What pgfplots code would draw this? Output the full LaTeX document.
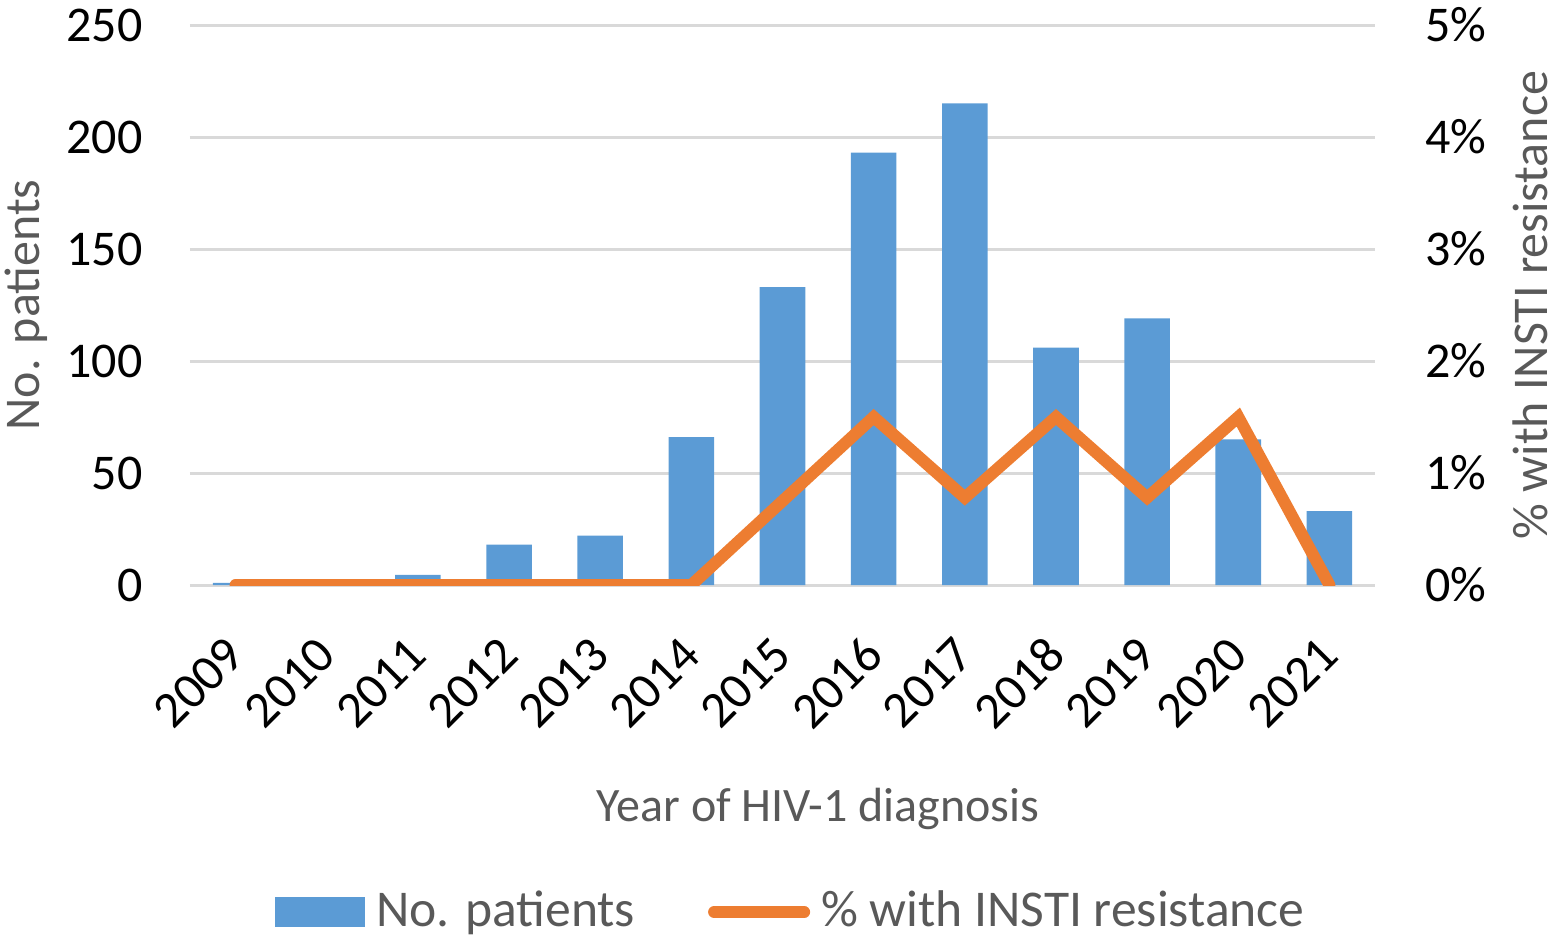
\documentclass[border=0pt]{standalone}
\usepackage{pgfplots}
\pgfplotsset{compat=1.18}
\usepackage{fontspec}
\setmainfont{Carlito}
\definecolor{barblue}{HTML}{5B9BD5}
\definecolor{lineorange}{HTML}{ED7D31}
\definecolor{gridgray}{HTML}{D9D9D9}
\definecolor{titlegray}{HTML}{595959}
\begin{document}
\fontsize{25}{30}\selectfont
\begin{tikzpicture}
\pgfplotsset{
  every axis/.append style={
    scale only axis, width=592.5pt, height=280pt,
    xmin=-0.5, xmax=12.5, enlargelimits=false,
    /pgf/number format/assume math mode=true,
    tick style={draw=none},
    font=\fontsize{25}{30}\selectfont,
  }
}
\begin{axis}[
  axis line style={draw=none},
  ymin=0, ymax=250, ytick={0,50,...,250},
  ymajorgrids, grid style={gridgray, line width=1.5pt},
  xtick={0,...,12},
  xticklabels={2009,2010,2011,2012,2013,2014,2015,2016,2017,2018,2019,2020,2021},
  xticklabel style={rotate=45, anchor=east, inner sep=0pt, font=\fontsize{25.5}{30}\selectfont},
  xticklabel shift=30.5pt,
  yticklabel style={anchor=east, inner sep=0pt},
  yticklabel shift=23.5pt,
  ylabel={No. patients},
  ylabel style={at={(axis description cs:-0.1561,0.5)}, anchor=north, inner sep=0pt, text=titlegray},
  xlabel={Year of HIV-1 diagnosis},
  xlabel style={at={(axis description cs:0.530,-0.423)}, anchor=base, inner sep=0pt, text=titlegray, font=\fontsize{24}{30}\selectfont},
]
\addplot[ybar, bar width=0.5, bar shift=0pt, fill=barblue, draw=none] coordinates {
(0,1) (1,0) (2,4.5) (3,18) (4,22) (5,66) (6,133) (7,193) (8,215) (9,106) (10,119) (11,65) (12,33)
};
\end{axis}
\begin{axis}[
  axis x line=none, axis y line*=right, axis line style={draw=none},
  ymin=0, ymax=5, ytick={0,1,2,3,4,5},
  yticklabel={\pgfmathprintnumber{\tick}\%},
  yticklabel style={anchor=west, inner sep=0pt},
  yticklabel shift=25pt,
  ylabel={\% with INSTI resistance},
  ylabel style={at={(axis description cs:1.1465,0.5)}, anchor=south, inner sep=0pt, text=titlegray, rotate=0},
  legend style={at={(axis description cs:0.0717,-0.584)}, anchor=west, draw=none, fill=none, inner sep=0pt,
    /tikz/every odd column/.style={column sep=5.5pt},
    /tikz/every even column/.style={column sep=36.5pt},
    nodes={inner sep=0pt, text=titlegray, font=\fontsize{25.8}{30}\selectfont}},
  legend columns=2,
]
\addlegendimage{legend image code/.code={\fill[barblue] (0pt,-7.25pt) rectangle (44.5pt,7.25pt);}}
\addlegendentry{No. patients}
\addplot[lineorange, line width=6pt, line cap=round, line join=miter,
  legend image code/.code={\draw[lineorange, line width=6pt, line cap=round] (3pt,0pt) -- (48pt,0pt);}]
  coordinates {
(0,0) (1,0) (2,0) (3,0) (4,0) (5,0) (6,0.75) (7,1.5) (8,0.78) (9,1.5) (10,0.78) (11,1.5) (12,0)
};
\addlegendentry{\% with INSTI resistance}
\end{axis}
\pgfresetboundingbox
\path (-95pt,-179.5pt) rectangle (684pt,292.5pt);
\end{tikzpicture}
\end{document}
